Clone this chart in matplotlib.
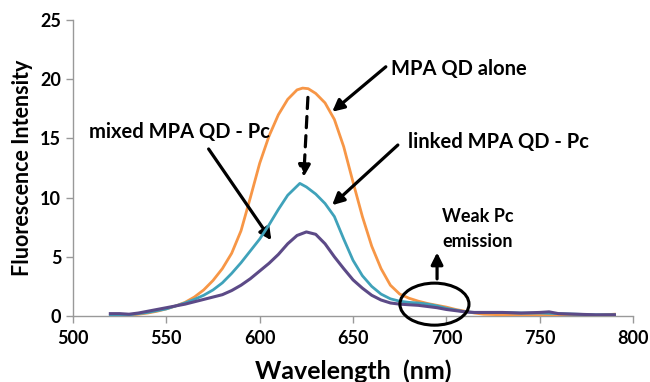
import matplotlib
matplotlib.use("Agg")
import matplotlib.pyplot as plt
from matplotlib.patches import Ellipse

plt.rcParams['font.family'] = ['Lato', 'DejaVu Sans']

wl_orange = [520, 525, 530, 535, 540, 545, 550, 555, 560, 565, 570, 575, 580, 585, 590, 595, 600, 605, 610, 615, 620, 623, 626, 630, 635, 640, 645, 650, 655, 660, 665, 670, 675, 680, 685, 690, 695, 700, 705, 710, 715, 720, 730, 740, 750, 760, 770, 780, 790]
orange = [0.0, 0.0, 0.05, 0.15, 0.25, 0.4, 0.6, 0.85, 1.15, 1.6, 2.2, 3.0, 4.0, 5.3, 7.2, 10.0, 12.9, 15.2, 17.0, 18.3, 19.1, 19.25, 19.2, 18.8, 18.0, 16.6, 14.3, 11.3, 8.4, 5.9, 4.0, 2.6, 1.85, 1.5, 1.25, 1.05, 0.9, 0.75, 0.55, 0.4, 0.25, 0.15, 0.1, 0.05, 0.05, 0.05, 0.1, 0.05, 0.15]

wl_teal = [520, 525, 530, 535, 540, 545, 550, 555, 560, 565, 570, 575, 580, 585, 590, 595, 600, 605, 610, 615, 621.5, 625, 630, 635, 640, 645, 650, 655, 660, 665, 670, 675, 680, 685, 690, 695, 700, 705, 710, 715, 720, 730, 740, 750, 760, 770, 780, 790]
teal = [0.0, 0.05, 0.1, 0.2, 0.3, 0.45, 0.6, 0.85, 1.1, 1.4, 1.75, 2.2, 2.8, 3.6, 4.5, 5.5, 6.5, 7.7, 9.0, 10.2, 11.2, 10.9, 10.3, 9.5, 8.4, 6.5, 4.7, 3.4, 2.5, 1.85, 1.45, 1.25, 1.15, 1.1, 1.0, 0.85, 0.65, 0.5, 0.35, 0.3, 0.3, 0.3, 0.25, 0.25, 0.2, 0.15, 0.1, 0.1]

wl_purple = [520, 525, 530, 535, 540, 545, 550, 555, 560, 565, 570, 575, 580, 585, 590, 595, 600, 605, 610, 615, 620, 625, 630, 635, 640, 645, 650, 655, 660, 665, 670, 675, 680, 685, 690, 695, 700, 705, 710, 715, 720, 730, 740, 750, 755, 760, 770, 780, 790]
purple = [0.2, 0.2, 0.15, 0.25, 0.4, 0.55, 0.7, 0.85, 1.0, 1.2, 1.4, 1.6, 1.8, 2.15, 2.6, 3.15, 3.8, 4.45, 5.2, 6.1, 6.8, 7.1, 6.9, 6.1, 5.0, 4.0, 3.05, 2.35, 1.75, 1.35, 1.1, 1.0, 0.95, 0.9, 0.8, 0.7, 0.55, 0.45, 0.35, 0.3, 0.3, 0.3, 0.25, 0.3, 0.35, 0.2, 0.15, 0.1, 0.1]

x_ticks = [500, 550, 600, 650, 700, 750, 800]
y_ticks = [0, 5, 10, 15, 20, 25]

fig = plt.figure(figsize=(6.5, 3.82), dpi=100)
ax = fig.add_axes([0.1123, 0.1728, 0.8617, 0.7748])

ax.plot(wl_orange, orange, color='#F79646', lw=2.0, zorder=3)
ax.plot(wl_teal, teal, color='#3FA2BA', lw=2.0, zorder=4)
ax.plot(wl_purple, purple, color='#5C4A87', lw=2.2, zorder=5)

ax.set_xlim(500, 800)
ax.set_ylim(0, 25)
ax.set_xticks(x_ticks)
ax.set_yticks(y_ticks)
ax.tick_params(axis='both', colors='#999999', labelcolor='black', length=5, width=1, labelsize=13)
ax.tick_params(axis='x', pad=5)
for lab in ax.get_xticklabels() + ax.get_yticklabels():
    lab.set_fontweight('bold')
for s in ['top', 'right']:
    ax.spines[s].set_visible(False)
for s in ['left', 'bottom']:
    ax.spines[s].set_color('#999999')
    ax.spines[s].set_linewidth(1)

ax.set_xlabel('Wavelength  (nm)', fontsize=18, fontweight='bold', labelpad=9)
ax.set_ylabel('Fluorescence Intensity', fontsize=15.5, fontweight='bold', labelpad=5)

akw = dict(arrowstyle='-|>,head_length=0.7,head_width=0.35', color='black', lw=2.3)
ax.annotate('', xy=(637.7, 17.1), xytext=(668.7, 21.2), arrowprops=akw)
ax.text(670.3, 20.9, 'MPA QD alone', fontsize=14.5, fontweight='bold', va='center', ha='left')

ax.annotate('', xy=(623.5, 11.5), xytext=(625.9, 18.7),
            arrowprops=dict(arrowstyle='-|>,head_length=0.7,head_width=0.35', color='black', lw=2.3, linestyle=(0, (3.5, 2.5))))

ax.annotate('', xy=(637.7, 9.2), xytext=(675.1, 14.6), arrowprops=akw)
ax.text(679.4, 14.7, 'linked MPA QD - Pc', fontsize=14.5, fontweight='bold', va='center', ha='left')

ax.annotate('', xy=(607.1, 6.2), xytext=(571.8, 14.3), arrowprops=akw)
ax.text(557, 15.5, 'mixed MPA QD - Pc', fontsize=14.5, fontweight='bold', va='center', ha='center')

ax.annotate('', xy=(695, 5.6), xytext=(695, 2.9), arrowprops=akw)
ax.text(697.6, 8.4, 'Weak Pc', fontsize=13, fontweight='bold', va='center', ha='left')
ax.text(697.6, 6.25, 'emission', fontsize=13, fontweight='bold', va='center', ha='left')

ell = Ellipse((693.6, 1.0), 37, 3.55, fill=False, edgecolor='black', lw=2.2, zorder=6, clip_on=False)
ax.add_patch(ell)

fig.savefig('out.png', dpi=100)
